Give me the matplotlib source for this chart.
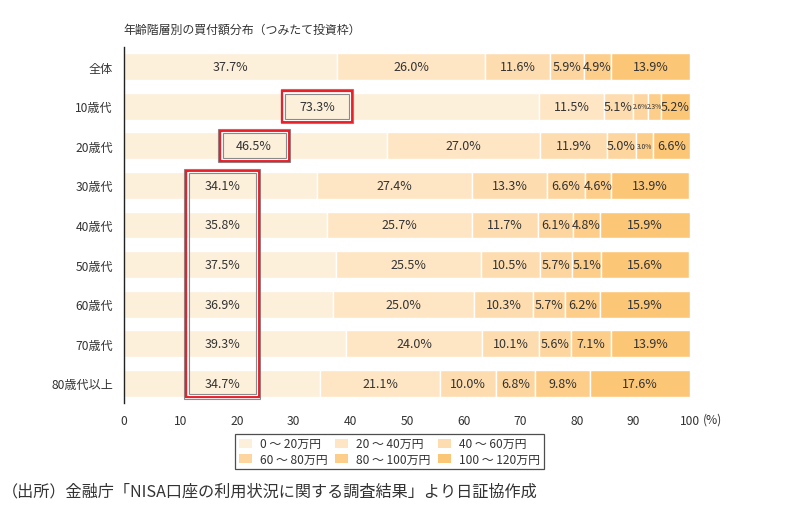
import matplotlib
matplotlib.use("Agg")
import matplotlib.pyplot as plt
from matplotlib.patches import Rectangle, Patch

plt.rcParams['font.family'] = ['Noto Sans CJK JP', 'DejaVu Sans']

categories = ["全体", "10歳代", "20歳代", "30歳代", "40歳代", "50歳代", "60歳代", "70歳代", "80歳代以上"]
series_names = ["0 ～ 20万円", "20 ～ 40万円", "40 ～ 60万円", "60 ～ 80万円", "80 ～ 100万円", "100 ～ 120万円"]
s0 = [37.7, 73.3, 46.5, 34.1, 35.8, 37.5, 36.9, 39.3, 34.7]
s1 = [26.0, 0.0, 27.0, 27.4, 25.7, 25.5, 25.0, 24.0, 21.1]
s2 = [11.6, 11.5, 11.9, 13.3, 11.7, 10.5, 10.3, 10.1, 10.0]
s3 = [5.9, 5.1, 5.0, 6.6, 6.1, 5.7, 5.7, 5.6, 6.8]
s4 = [4.9, 2.6, 3.0, 4.6, 4.8, 5.1, 6.2, 7.1, 9.8]
s5 = [13.9, 2.3, 6.6, 13.9, 15.9, 15.6, 15.9, 13.9, 17.6]
s6 = [0.0, 5.2, 0.0, 0.0, 0.0, 0.0, 0.0, 0.0, 0.0]
xticks = [0, 10, 20, 30, 40, 50, 60, 70, 80, 90, 100]

# 10歳代 row has 6 shown segments: drop empty ones per row
rows = []
for i in range(len(categories)):
    vals = [s0[i], s1[i], s2[i], s3[i], s4[i], s5[i], s6[i]]
    vals = [v for v in vals if v > 0]
    rows.append(vals)

colors = ["#FDF0DB", "#FEE6C4", "#FDDDB0", "#FDD59E", "#FDCD8A", "#FCC677"]
small_idx = {(1, 3), (1, 4), (2, 4)}

fig = plt.figure(figsize=(8.11, 5.10), dpi=100)
ax = fig.add_axes([124/811, 1-404/510, 566/811, 356/510])
txt = "#333333"
bh = 0.68
for i, vals in enumerate(rows):
    left = 0
    for j, v in enumerate(vals):
        ax.barh(i, v, left=left, height=bh, color=colors[j], edgecolor="white", linewidth=1.0)
        cx = left + v / 2
        if j == 0:
            if i == 1:
                cx = 34.2
            elif i == 2:
                cx = 23.0
            elif i >= 3:
                cx = 17.4
        if (i, j) in small_idx:
            ax.text(cx, i, f"{v:.1f}%", ha="center", va="center", fontsize=4.8, color=txt)
        else:
            ax.text(cx, i, f"{v:.1f}%", ha="center", va="center", fontsize=9, color=txt)
        left += v

ax.set_xlim(0, 100)
ax.set_ylim(8.5, -0.5)
ax.set_yticks(range(len(categories)))
ax.set_yticklabels(categories, fontsize=8.7, color=txt)
ax.set_xticks(xticks)
ax.set_xticklabels([str(t) for t in xticks], fontsize=8.7, color=txt)
ax.tick_params(axis="both", length=0)
ax.tick_params(axis="x", pad=8)
ax.tick_params(axis="y", pad=8)
for s in ["top", "right", "bottom"]:
    ax.spines[s].set_visible(False)
ax.spines["left"].set_color("#222222")
ax.spines["left"].set_linewidth(1.0)
ax.text(104.0, 8.5 + 16/39.5, "(%)", fontsize=8.7, color=txt, ha="center", va="center")

# red highlight boxes
px_x = 100 / 566
px_y = 1 / 39.5

def hbox(x0, x1, y0, y1):
    def rect(inset, ec, lw):
        dx = inset * px_x
        dy = inset * px_y
        ax.add_patch(Rectangle((x0 + dx, y0 + dy), (x1 - x0) - 2 * dx, (y1 - y0) - 2 * dy,
                               fill=False, edgecolor=ec, linewidth=lw, clip_on=False, zorder=5))
    rect(0.5, "#8a8a8a", 0.8)
    rect(2.0, "#E8202A", 1.6)
    rect(3.6, "white", 0.8)
    rect(4.6, "#8a8a8a", 0.8)

hbox(27.6, 40.6, 1 - 0.44, 1 + 0.44)
hbox(16.6, 29.5, 2 - 0.43, 2 + 0.43)
hbox(10.6, 24.2, 3 - 0.42, 8 + 0.40)

fig.text(123/811, 1-30/510, "年齢階層別の買付額分布（つみたて投資枠）", fontsize=8.6, color=txt, ha="left", va="center")
fig.text(2/811, 1-492/510, "（出所）金融庁「NISA口座の利用状況に関する調査結果」より日証協作成", fontsize=11.6, color=txt,
         ha="left", va="center")

handles = [Patch(facecolor=c, edgecolor="none") for c in colors]
order = [0, 3, 1, 4, 2, 5]
leg = fig.legend([handles[k] for k in order], [series_names[k] for k in order], ncol=3,
                 loc="center", bbox_to_anchor=(389.5/811, 1-452.5/510), fontsize=8.6,
                 frameon=True, fancybox=False, handlelength=1.1, handleheight=0.8,
                 handletextpad=0.7, columnspacing=0.6, labelspacing=0.2,
                 borderpad=0.3, labelcolor=txt)
leg.get_frame().set_edgecolor("#222222")
leg.get_frame().set_linewidth(0.9)

fig.savefig("out.png", dpi=100)
